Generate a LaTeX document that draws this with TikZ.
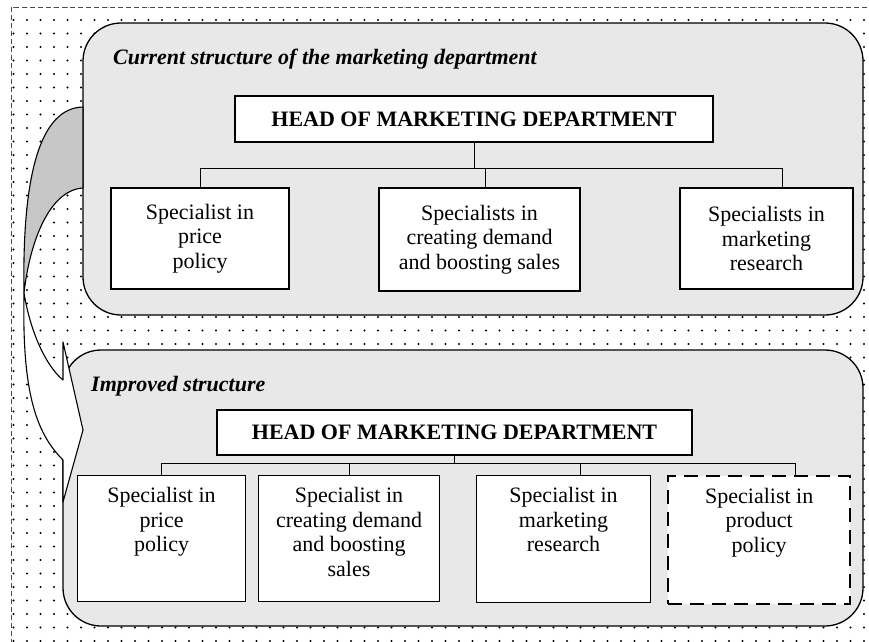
\documentclass[tikz,border=0pt]{standalone}
\usepackage{fontspec}
\setmainfont{Liberation Serif}
\usetikzlibrary{patterns.meta}
\newcommand{\topfill}[3]{\parbox[c][#1][t]{#2}{\centering\rule{0pt}{27pt}#3\par}}
\begin{document}
\begin{tikzpicture}[x=1pt,y=-1pt,
  panel/.style={draw=black, line width=1.3pt, fill=black!9, rounded corners=38pt},
  box/.style={draw=black, line width=1.1pt, fill=white, inner sep=0pt, align=center,
    font=\fontsize{22}{24.5}\selectfont},
  lbox/.style={draw=black, line width=1.1pt, fill=white, inner sep=0pt,
    font=\fontsize{22}{24.5}\selectfont},
  newbox/.style={lbox, dash pattern=on 14pt off 8pt, line width=2.4pt},
  headbox/.style={draw=black, line width=1.1pt, fill=white, inner sep=0pt,
    font=\fontsize{22}{26}\selectfont\bfseries},
  paneltitle/.style={font=\fontsize{22}{26}\selectfont\bfseries\itshape,
    anchor=base west, inner sep=0pt},
  link/.style={draw=black, line width=0.9pt},
  ribbon/.style={draw=black, line width=1.1pt, line join=round},
]
\useasboundingbox (0,0) rectangle (869,641);
\clip (0,0) rectangle (869,641);
\fill[white] (0,0) rectangle (869,641);
% background
\fill[pattern={Dots[radius=1.05pt, distance=13.5pt]}, pattern color=black] (11,7) rectangle (880,650);
\draw[black!70, line width=0.7pt, dash pattern=on 5pt off 3pt] (11,7) rectangle (880,650);

% panels
\draw[panel] (83,23) rectangle (863,315);
\draw[panel] (63,350) rectangle (863,626);

% titles
\node[paneltitle] (t1) at (113,64) {Current structure of the marketing department};
\node[paneltitle] (t2) at (91,391) {Improved structure};

% current structure
\node[headbox, minimum width=478pt, minimum height=46pt] (h1) at (474,119)
  {HEAD OF MARKETING DEPARTMENT};
\node[box, minimum width=178pt, minimum height=101pt] (c1) at (200,238.5)
  {Specialist in\\price\\policy};
\node[box, minimum width=201pt, minimum height=103pt] (c2) at (479.5,239.5)
  {Specialists in\\creating demand\\and boosting sales};
\node[box, minimum width=173pt, minimum height=101pt] (c3) at (766.5,238.5)
  {Specialists in\\marketing\\research};
\coordinate (b1) at (476,168);
\draw[link] (h1.south) -- (h1.south |- b1);
\draw[link] (c1.north) |- (b1);
\draw[link] (b1) -| ([xshift=15.5pt]c3.north);
\draw[link] ([xshift=5.5pt]c2.north) -- ([xshift=5.5pt]c2.north |- b1);

% improved structure
\node[headbox, minimum width=475pt, minimum height=45pt] (h2) at (454.5,432.5)
  {HEAD OF MARKETING DEPARTMENT};
\node[lbox, anchor=north west] (d1) at (77,475)
  {\topfill{126pt}{168pt}{Specialist in\\price\\policy}};
\node[lbox, anchor=north west] (d2) at (258,475)
  {\topfill{126pt}{181pt}{Specialist in\\creating demand\\and boosting\\sales}};
\node[lbox, anchor=north west] (d3) at (476,475)
  {\topfill{127pt}{174pt}{Specialist in\\marketing\\research}};
\node[newbox, anchor=north west] (d4) at (667,475)
  {\topfill{128pt}{182pt}{Specialist in\\product\\policy}};
\coordinate (b2) at (456,463);
\draw[link] (h2.south) -- (h2.south |- b2);
\draw[link] (d1.north) |- (b2);
\draw[link] (d2.north) -- (d2.north |- b2);
\draw[link] (b2) -| ([xshift=17pt]d3.north);
\draw[link] (b2) -| ([xshift=36pt]d4.north);

% curved ribbon arrow
\draw[ribbon, fill=black!22] (83,107) .. controls (40,108) and (22,175) .. (24,293)
  .. controls (30,240) and (50,190) .. (83,188) -- cycle;
\draw[ribbon, fill=white] (24,293) .. controls (22,390) and (35,432) .. (63,460)
  -- (63,502) -- (83,430) -- (63,342) -- (63,380)
  .. controls (45,365) and (30,330) .. (24,293) -- cycle;
\end{tikzpicture}
\end{document}
